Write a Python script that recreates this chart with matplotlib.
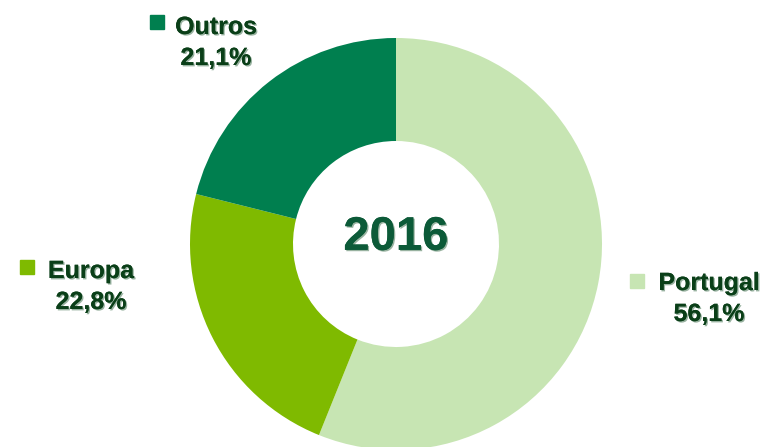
import matplotlib.pyplot as plt
import matplotlib.patheffects as pe
from matplotlib.patches import Rectangle

# Dados
categorias = ['Portugal', 'Europa', 'Outros']
valores = [56.1, 22.8, 21.1]
rotulos = ['56,1%', '22,8%', '21,1%']
cores = ['#c7e5b3', '#7fba00', '#007f4f']
ano = '2016'

W, H = 769, 447
fig = plt.figure(figsize=(W / 100, H / 100), dpi=100)

# Donut: centro (396, 244) px, raio 206 px
cx, cy, R = 396, 244, 206
ax = fig.add_axes([(cx - R) / W, (H - cy - R) / H, 2 * R / W, 2 * R / H])
ax.pie(valores, colors=cores, startangle=90, counterclock=False,
       wedgeprops=dict(width=0.5, edgecolor='none'))
ax.set_xlim(-1, 1)
ax.set_ylim(-1, 1)
ax.set_aspect('equal')
ax.axis('off')

sombra = [pe.withSimplePatchShadow(offset=(1, -1), shadow_rgbFace='#7f9f88', alpha=0.8), pe.Normal()]

ax.text(0, 0.03, ano, ha='center', va='center', fontsize=34, fontweight='bold',
        color='#0c5a38', family='Liberation Sans', path_effects=sombra)

# Rótulos (posições em pixels)
pos = {
    'Outros': (216, 27, 157, 22),
    'Europa': (91, 271, 27, 267),
    'Portugal': (709, 283, 637, 281),
}
for cat, val, cor in zip(categorias, rotulos, cores):
    tx, ty, mx, my = pos[cat]
    fig.text(tx / W, 1 - ty / H, cat, ha='center', va='center', fontsize=18,
             fontweight='bold', color='#0a3f18', family='Liberation Sans', path_effects=sombra)
    fig.text(tx / W, 1 - (ty + 31) / H, val, ha='center', va='center', fontsize=18,
             fontweight='bold', color='#0a3f18', family='Liberation Sans', path_effects=sombra)
    fig.add_artist(Rectangle(((mx - 7) / W, 1 - (my + 7) / H), 14 / W, 14 / H,
                             transform=fig.transFigure, color=cor))

fig.savefig('out.png', dpi=100)
